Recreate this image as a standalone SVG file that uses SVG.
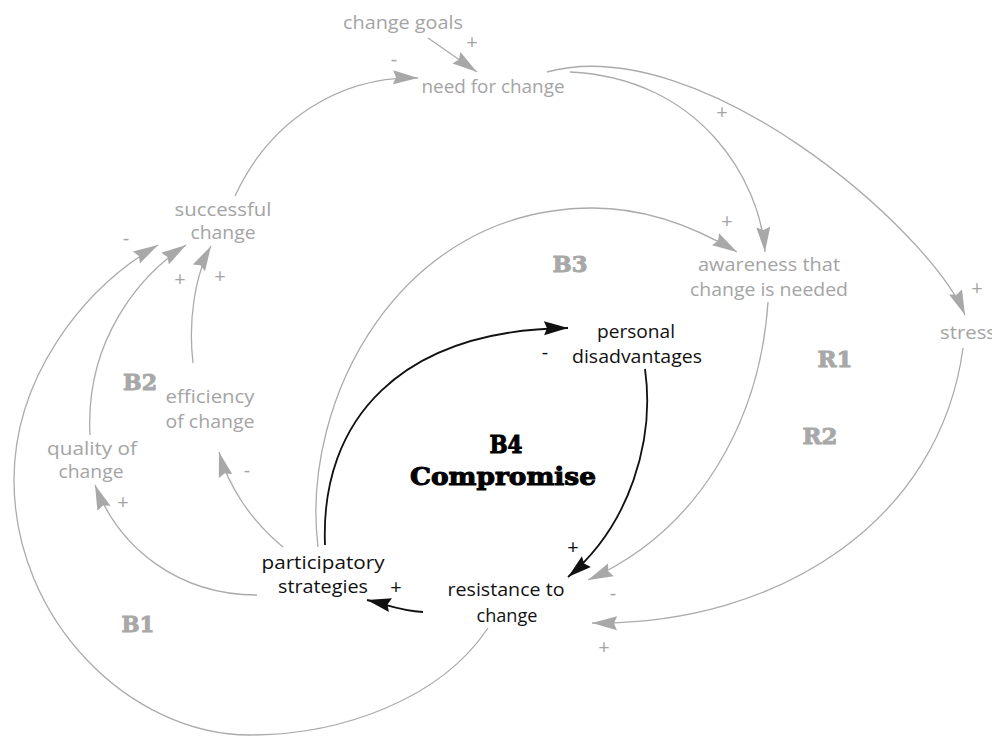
<svg xmlns="http://www.w3.org/2000/svg" width="992" height="737" viewBox="0 0 992 737">
<defs>
<style>
.t{font-family:"Open Sans","Noto Sans","DejaVu Sans",sans-serif;font-size:17.5px;text-anchor:middle}
.g{fill:#a4a4a4}
.k{fill:#111111}
.s{font-family:"Open Sans","DejaVu Sans",sans-serif;font-size:20px;text-anchor:middle}
.loop{font-family:"DejaVu Serif","Liberation Serif",serif;font-weight:bold;font-size:22px;fill:#a8a8a8;stroke:#a8a8a8;stroke-width:0.9;text-anchor:middle}
.big{font-family:"DejaVu Serif","Liberation Serif",serif;font-weight:bold;font-size:24px;fill:#000;stroke:#000;stroke-width:1;text-anchor:middle}
.lg{fill:none;stroke:#ababab;stroke-width:1.3;marker-end:url(#ag)}
.lk{fill:none;stroke:#111;stroke-width:1.8;marker-end:url(#ak)}
</style>
<marker id="ag" markerUnits="userSpaceOnUse" markerWidth="26" markerHeight="16" refX="25" refY="8" orient="auto">
<path d="M0,1 L25,8 L0,15 L3,8 z" fill="#a8a8a8"/>
</marker>
<marker id="ak" markerUnits="userSpaceOnUse" markerWidth="26" markerHeight="16" refX="24" refY="8" orient="auto">
<path d="M0,1 L24,8 L0,15 L3,8 z" fill="#111"/>
</marker>
</defs>
<rect width="992" height="737" fill="#fff"/>

<g id="connectors">
<path class="lg" d="M428,38 L477,72"/>
<path class="lg" d="M235,196 C270,120 340,76 418,78"/>
<path class="lg" d="M570,72 C700,78 760,180 765,252"/>
<path class="lg" d="M547,72 C700,30 930,230 965,315"/>
<path class="lg" d="M318,547 C300,400 400,208 593,208 C650,208 700,230 737,252"/>
<path class="lg" d="M768,302 C760,420 700,530 588,580"/>
<path class="lg" d="M963,348 C940,520 780,625 592,623"/>
<path class="lk" d="M645,369 C655,440 630,525 568,577"/>
<path class="lk" d="M325,545 C320,420 400,330 568,328"/>
<path class="lk" d="M423,612 C400,611 385,604 367,600"/>
<path class="lg" d="M257,595 C180,595 120,550 95,485"/>
<path class="lg" d="M283,547 C250,520 228,485 219,452"/>
<path class="lg" d="M90,435 C85,340 140,275 186,245"/>
<path class="lg" d="M193,363 C188,320 195,275 211,246"/>
<path class="lg" d="M488,628 C440,700 340,735 250,735 C130,735 14,620 14,480 C14,380 80,290 158,245"/>
</g>

<g id="signs">
<text class="s g" x="472" y="49">+</text>
<text class="s g" x="394" y="66">-</text>
<text class="s g" x="722" y="119">+</text>
<text class="s g" x="727" y="228">+</text>
<text class="s g" x="977" y="295">+</text>
<text class="s g" x="126" y="245">-</text>
<text class="s g" x="180" y="286">+</text>
<text class="s g" x="220" y="283">+</text>
<text class="s g" x="247" y="477">-</text>
<text class="s g" x="123" y="509">+</text>
<text class="s k" x="545" y="359">-</text>
<text class="s k" x="573" y="554">+</text>
<text class="s k" x="396" y="594">+</text>
<text class="s g" x="613" y="600">-</text>
<text class="s g" x="604" y="654">+</text>
</g>

<g id="change-goals"><text class="t g" x="403" y="29" textLength="120" lengthAdjust="spacingAndGlyphs">change goals</text></g>
<g id="need-for-change"><text class="t g" x="493" y="93" textLength="143" lengthAdjust="spacingAndGlyphs">need for change</text></g>
<g id="successful-change">
<text class="t g" x="223" y="216" textLength="97" lengthAdjust="spacingAndGlyphs">successful</text>
<text class="t g" x="223" y="239" textLength="65" lengthAdjust="spacingAndGlyphs">change</text>
</g>
<g id="awareness">
<text class="t g" x="769" y="271" textLength="142" lengthAdjust="spacingAndGlyphs">awareness that</text>
<text class="t g" x="769" y="296" textLength="158" lengthAdjust="spacingAndGlyphs">change is needed</text>
</g>
<g id="stress"><text class="t g" x="940" y="339" style="text-anchor:start" textLength="56" lengthAdjust="spacingAndGlyphs">stress</text></g>
<g id="personal-disadvantages">
<text class="t k" x="636" y="338" textLength="78" lengthAdjust="spacingAndGlyphs">personal</text>
<text class="t k" x="637" y="363" textLength="130" lengthAdjust="spacingAndGlyphs">disadvantages</text>
</g>
<g id="resistance-to-change">
<text class="t k" x="506" y="596" textLength="117" lengthAdjust="spacingAndGlyphs">resistance to</text>
<text class="t k" x="507" y="622" textLength="61" lengthAdjust="spacingAndGlyphs">change</text>
</g>
<g id="participatory-strategies">
<text class="t k" x="323" y="569" textLength="123" lengthAdjust="spacingAndGlyphs">participatory</text>
<text class="t k" x="323" y="593" textLength="90" lengthAdjust="spacingAndGlyphs">strategies</text>
</g>
<g id="efficiency-of-change">
<text class="t g" x="210" y="403" textLength="89" lengthAdjust="spacingAndGlyphs">efficiency</text>
<text class="t g" x="210" y="428" textLength="89" lengthAdjust="spacingAndGlyphs">of change</text>
</g>
<g id="quality-of-change">
<text class="t g" x="92" y="455" textLength="90" lengthAdjust="spacingAndGlyphs">quality of</text>
<text class="t g" x="91" y="478" textLength="65" lengthAdjust="spacingAndGlyphs">change</text>
</g>

<g id="loop-labels">
<text class="loop" x="140" y="390" textLength="34" lengthAdjust="spacingAndGlyphs">B2</text>
<text class="loop" x="138" y="632" textLength="33" lengthAdjust="spacingAndGlyphs">B1</text>
<text class="loop" x="570" y="272" textLength="35" lengthAdjust="spacingAndGlyphs">B3</text>
<text class="loop" x="835" y="367" textLength="35" lengthAdjust="spacingAndGlyphs">R1</text>
<text class="loop" x="820" y="444" textLength="35" lengthAdjust="spacingAndGlyphs">R2</text>
<text class="big" x="506" y="453" textLength="33" lengthAdjust="spacingAndGlyphs">B4</text>
<text class="big" x="503" y="485" textLength="186" lengthAdjust="spacingAndGlyphs">Compromise</text>
</g>
</svg>
